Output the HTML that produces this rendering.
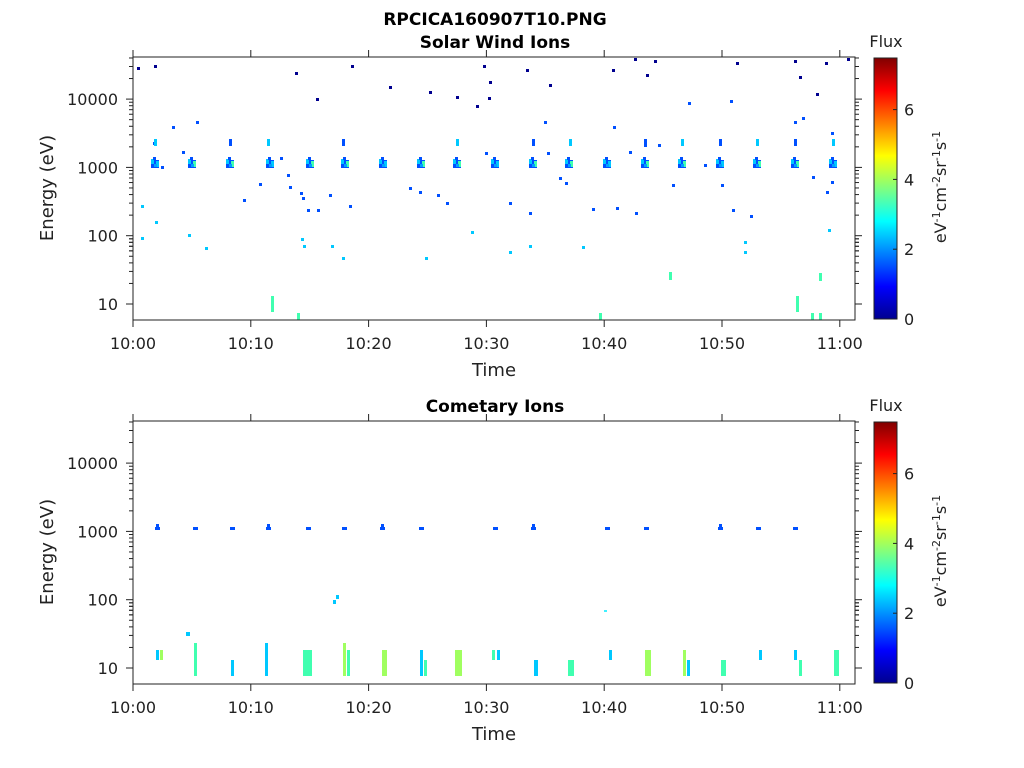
<!DOCTYPE html>
<html><head><meta charset="utf-8"><style>
body{margin:0;background:#fff;}
svg{display:block;font-family:"DejaVu Sans","Liberation Sans",sans-serif;}
</style></head><body>
<svg id="s" width="1024" height="768" xmlns="http://www.w3.org/2000/svg">
<defs>
<linearGradient id="jet" x1="0" y1="1" x2="0" y2="0">
<stop offset="0" stop-color="#00008f"/><stop offset="0.125" stop-color="#0000ff"/>
<stop offset="0.375" stop-color="#00ffff"/><stop offset="0.625" stop-color="#ffff00"/>
<stop offset="0.875" stop-color="#ff0000"/><stop offset="1" stop-color="#800000"/>
</linearGradient>
</defs>
<text x="495" y="25" text-anchor="middle" font-size="17" font-weight="bold">RPCICA160907T10.PNG</text>
<text x="495" y="48" text-anchor="middle" font-size="17" font-weight="bold">Solar Wind Ions</text>
<text x="495" y="412" text-anchor="middle" font-size="17" font-weight="bold">Cometary Ions</text>
<g id="g"></g>
</svg>
<script>
const g=document.getElementById('g');let h='';
function R(x,y,w,ht,c){h+=`<rect x="${x}" y="${y}" width="${w}" height="${ht}" fill="${c}"/>`;}
function L(x1,y1,x2,y2){h+=`<line x1="${x1}" y1="${y1}" x2="${x2}" y2="${y2}" stroke="#222" stroke-width="1"/>`;}
function T(x,y,t,a,s){h+=`<text x="${x}" y="${y}" text-anchor="${a||'middle'}" font-size="${s||16}" fill="#222">${t}</text>`;}
function axes(y0){
 const top=y0,bot=y0+263,l=133,r=855;
 h+=`<rect x="${l}" y="${top}" width="${r-l}" height="${bot-top}" fill="none" stroke="#222"/>`;
 const d=68.3, y10=y0+247;
 for(let e=0;e<4;e++){for(let m=1;m<10;m++){const y=y10-(e+Math.log10(m))*d;if(y<top||y>bot)continue;const len=m==1?7:4;L(l-len,y,l,y);L(r,y,r+len,y);}}
 for(let m=6;m<10;m++){const y=y10-Math.log10(m)*d;if(y<=bot){L(l-4,y,l,y);L(r,y,r+4,y);}}
 ['10','100','1000','10000'].forEach((t,i)=>T(118,y10-i*d+6,t,'end'));
 const lab=['10:00','10:10','10:20','10:30','10:40','10:50','11:00'];
 for(let k=0;k<7;k++){const x=133+117.8*k;L(x,bot,x,bot+7);L(x,top,x,top-7);T(x,bot+29,lab[k]);}
 T(494,bot+56,'Time','middle',18);
 h+=`<text transform="translate(53,${top+131}) rotate(-90)" text-anchor="middle" font-size="18" fill="#222">Energy (eV)</text>`;
 h+=`<rect x="874" y="${top+1}" width="23" height="261" fill="url(#jet)" stroke="#222"/>`;
 for(let v=0;v<=6;v+=2){const y=top+262-v*34.9;L(893,y,897,y);T(904,y+6,v,'start');}
 T(886,top-10,'Flux','middle',16);
 h+=`<text transform="translate(946,${top+130}) rotate(-90)" text-anchor="middle" font-size="16" fill="#222">eV<tspan dy="-6" font-size="11">-1</tspan><tspan dy="6">cm</tspan><tspan dy="-6" font-size="11">-2</tspan><tspan dy="6">sr</tspan><tspan dy="-6" font-size="11">-1</tspan><tspan dy="6">s</tspan><tspan dy="-6" font-size="11">-1</tspan></text>`;
}
const NV='#00008f',BL='#0050ff',CY='#00c8ff',LC='#40f0ff',GR='#40ffb0',YG='#a0ff60';
[[138,68],[155,66],[296,73],[317,99],[352,66],[390,87],[430,92],[457,97],[477,106],[490,82],[489,98],[484,66],[527,70],[550,85],[613,70],[635,59],[647,75],[655,61],[737,63],[795,61],[800,77],[817,94],[826,63],[848,59]].forEach(p=>R(p[0]-1,p[1]-1,3,3,NV));
[[173,127],[197,122],[154,143],[183,152],[162,167],[244,200],[281,158],[288,175],[303,198],[308,210],[318,210],[330,195],[350,206],[410,188],[420,192],[438,195],[447,203],[486,153],[510,203],[530,213],[545,122],[548,153],[560,178],[566,183],[593,209],[614,127],[617,208],[630,152],[636,213],[645,145],[659,145],[673,185],[689,103],[705,165],[722,185],[731,101],[733,210],[751,216],[795,122],[803,118],[813,177],[827,192],[832,133],[832,182],[260,184],[290,187],[301,193]].forEach(p=>R(p[0]-1,p[1]-1,3,3,BL));
[[142,206],[156,222],[142,238],[189,235],[206,248],[302,239],[304,246],[332,246],[343,258],[426,258],[472,232],[510,252],[530,246],[583,247],[745,242],[745,252],[829,230]].forEach(p=>R(p[0]-1,p[1]-1,3,3,CY));
[[272,296,16],[298,313,7],[600,313,7],[670,272,8],[797,296,16],[812,313,7],[820,313,7],[820,273,8]].forEach(p=>R(p[0]-1,p[1],3,p[2],GR));
[155,192,230,270,310,345,383,421,457,495,533,569,607,645,682,720,757,795,833].forEach((x,i)=>{
 R(x-4,160,8,8,BL);R(x-4,159,3,5,CY);R(x+1,161,3,6,i%3?GR:CY);R(x-2,157,3,3,BL);R(x-1,164,3,3,'#00a0ff');});
[155,230,268,343,457,533,570,645,682,720,757,795,833].forEach((x,i)=>{R(x-1,139,3,7,i%2?BL:CY);});
[157,195,232,268,308,344,382,421,495,533,607,646,720,758,795].forEach((x,i)=>{R(x-2,527,5,3,BL);if(i%3==0)R(x-1,524,3,4,BL);});
R(333,600,3,4,CY);R(336,595,3,4,CY);R(604,610,3,2,LC);R(186,632,4,4,CY);
[[156,650,3,10,CY],[160,650,3,10,YG],[194,643,3,33,GR],[231,660,3,16,CY],[265,643,3,33,CY],[303,650,9,26,GR],[343,643,3,33,YG],[347,650,3,26,GR],[382,650,5,26,YG],[420,650,3,26,CY],[424,660,3,16,GR],[455,650,7,26,YG],[492,650,3,10,GR],[497,650,3,10,CY],[534,660,4,16,CY],[568,660,6,16,GR],[609,650,3,10,CY],[645,650,6,26,YG],[683,650,3,26,YG],[687,660,3,16,CY],[721,660,5,16,GR],[759,650,3,10,CY],[794,650,3,10,CY],[799,660,3,16,GR],[834,650,5,26,GR]].forEach(p=>R(p[0],p[1],p[2],p[3],p[4]));
axes(57);axes(421);
g.innerHTML=h;
</script>
</body></html>
